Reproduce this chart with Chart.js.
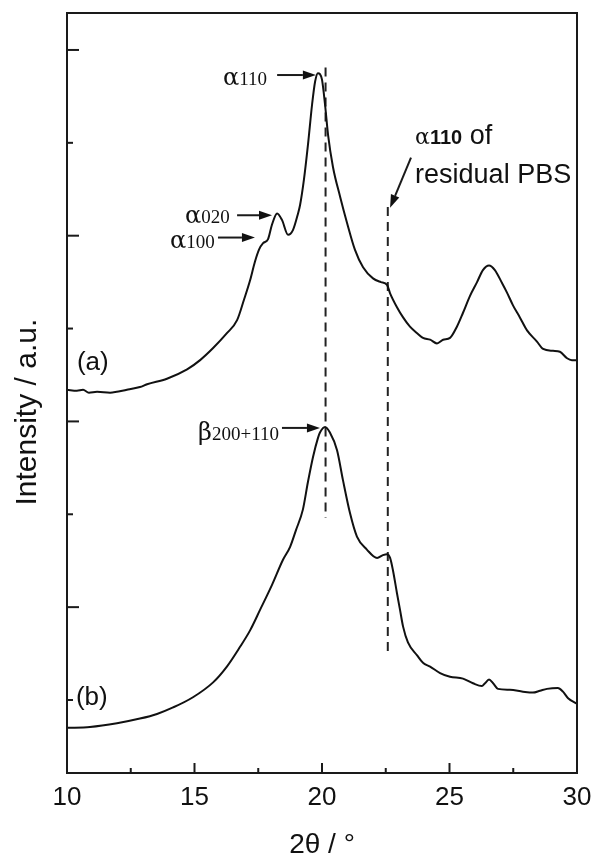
<!DOCTYPE html>
<html><head><meta charset="utf-8">
<script src="https://cdn.jsdelivr.net/npm/chart.js@4/dist/chart.umd.min.js"></script>
<style>html,body{margin:0;padding:0;background:#fff}</style>
</head><body>
<canvas id="c" width="594" height="856"></canvas>
<script>
// ---- data ----
const xA = [10.00,10.39,10.63,10.86,11.18,11.69,12.35,12.86,13.14,13.92,14.71,15.22,15.73,16.27,16.67,16.94,17.18,17.37,17.53,17.69,17.88,18.04,18.24,18.43,18.67,18.86,19.06,19.14,19.29,19.45,19.61,19.73,19.84,19.92,20.00,20.12,20.24,20.43,20.71,20.98,21.29,21.61,22.00,22.31,22.55,22.67,22.94,23.18,23.45,23.73,23.96,24.24,24.51,24.75,25.02,25.29,25.53,25.80,26.08,26.31,26.55,26.78,27.06,27.25,27.49,27.76,28.04,28.43,28.67,29.06,29.33,29.61,29.80,30.00];
const yA = [3.34,3.33,3.34,3.31,3.32,3.31,3.34,3.37,3.40,3.46,3.56,3.66,3.79,3.95,4.09,4.31,4.52,4.72,4.85,4.92,4.96,5.12,5.24,5.17,5.01,5.06,5.24,5.33,5.60,5.98,6.41,6.66,6.75,6.74,6.68,6.41,6.08,5.74,5.42,5.14,4.85,4.66,4.54,4.50,4.47,4.38,4.23,4.12,4.02,3.95,3.90,3.88,3.84,3.88,3.90,4.02,4.17,4.35,4.50,4.63,4.68,4.63,4.49,4.39,4.25,4.12,3.98,3.86,3.78,3.76,3.75,3.68,3.66,3.66];
const xB = [10.00,10.90,11.96,12.86,13.53,14.16,14.94,15.73,16.27,16.78,17.18,17.57,18.04,18.47,18.75,18.98,19.25,19.45,19.65,19.84,19.92,20.12,20.31,20.59,20.82,21.10,21.37,21.76,22.16,22.39,22.55,22.67,22.78,22.94,23.06,23.18,23.37,23.73,23.96,24.24,24.63,25.02,25.53,25.92,26.27,26.39,26.55,26.71,26.90,27.37,27.88,28.27,28.55,28.82,29.25,29.45,29.65,30.00];
const yB = [-0.30,-0.29,-0.25,-0.20,-0.15,-0.08,0.03,0.19,0.36,0.57,0.75,0.97,1.24,1.51,1.65,1.83,2.05,2.35,2.62,2.82,2.88,2.94,2.88,2.69,2.37,2.01,1.76,1.62,1.53,1.56,1.57,1.53,1.40,1.15,0.97,0.79,0.62,0.48,0.40,0.36,0.29,0.25,0.23,0.18,0.15,0.18,0.22,0.18,0.12,0.11,0.09,0.08,0.10,0.12,0.13,0.09,0.02,-0.04];
const dash1X = [20.14, 20.14], dash1Y = [6.81, 1.96];
const dash2X = [22.58, 22.58], dash2Y = [5.31, 0.485];
const xTickValues = [10,12.5,15,17.5,20,22.5,25,27.5,30];
const yTickValues = [0,1,2,3,4,5,6,7];
const xTitle = '2θ / °';
const yTitle = 'Intensity / a.u.';

// ---- annotation layout (data coordinates) ----
const peakNotes = [
  {g:'α', s:'110', x:16.12, y:6.62, a0:18.24, a1:19.76, ay:6.73},
  {g:'α', s:'020', x:14.63, y:5.14, a0:16.67, a1:18.04, ay:5.22},
  {g:'α', s:'100', x:14.04, y:4.87, a0:15.92, a1:17.37, ay:4.98},
  {g:'β', s:'200+110', x:15.14, y:2.80, a0:18.43, a1:19.92, ay:2.93}
];

const toPts = (xs, ys) => xs.map((x, i) => ({x, y: ys[i]}));

function arrow(ctx, x0, y0, x1, y1) {
  const ang = Math.atan2(y1 - y0, x1 - x0), L = 13, W = 4.5;
  const bx = x1 - L * Math.cos(ang), by = y1 - L * Math.sin(ang);
  ctx.beginPath(); ctx.moveTo(x0, y0); ctx.lineTo(bx, by); ctx.stroke();
  ctx.beginPath();
  ctx.moveTo(x1, y1);
  ctx.lineTo(bx + W * Math.sin(ang), by - W * Math.cos(ang));
  ctx.lineTo(bx - W * Math.sin(ang), by + W * Math.cos(ang));
  ctx.closePath(); ctx.fill();
}

const decor = {
  id: 'decor',
  afterDraw(chart) {
    const {ctx, chartArea: {left, top, right, bottom}, scales: {x, y}} = chart;
    ctx.save();
    ctx.strokeStyle = '#1a1a1a'; ctx.fillStyle = '#111'; ctx.lineWidth = 2;
    ctx.strokeRect(left, top, right - left, bottom - top);
    xTickValues.forEach(v => {
      const px = x.getPixelForValue(v), len = (v % 5 === 0) ? 10 : 5;
      ctx.beginPath(); ctx.moveTo(px, bottom); ctx.lineTo(px, bottom - len); ctx.stroke();
    });
    yTickValues.forEach(v => {
      const py = y.getPixelForValue(v), len = (v % 2 === 1) ? 12 : 6;
      ctx.beginPath(); ctx.moveTo(left, py); ctx.lineTo(left + len, py); ctx.stroke();
    });
    // peak labels
    ctx.textBaseline = 'alphabetic'; ctx.textAlign = 'left';
    peakNotes.forEach(n => {
      const px = x.getPixelForValue(n.x), py = y.getPixelForValue(n.y);
      ctx.font = '24px "DejaVu Serif"';
      ctx.fillText(n.g, px, py);
      const w = ctx.measureText(n.g).width;
      ctx.font = '19px "Liberation Serif"';
      ctx.fillText(n.s, px + w, py);
      arrow(ctx, x.getPixelForValue(n.a0), y.getPixelForValue(n.ay), x.getPixelForValue(n.a1), y.getPixelForValue(n.ay));
    });
    // residual PBS note
    let px = x.getPixelForValue(23.65), py = y.getPixelForValue(5.99);
    ctx.font = '22px "DejaVu Serif"'; ctx.fillText('α', px, py);
    px += ctx.measureText('α').width;
    ctx.font = 'bold 20px "Liberation Sans"'; ctx.fillText('110', px, py);
    px += ctx.measureText('110').width;
    ctx.font = '27px "Liberation Sans"'; ctx.fillText(' of', px, py);
    ctx.fillText('residual PBS', x.getPixelForValue(23.65), y.getPixelForValue(5.57));
    arrow(ctx, x.getPixelForValue(23.49), y.getPixelForValue(5.84), x.getPixelForValue(22.67), y.getPixelForValue(5.30));
    // curve tags
    ctx.textBaseline = 'middle';
    ctx.font = '26px "Liberation Sans"';
    ctx.fillText('(a)', x.getPixelForValue(10.39), y.getPixelForValue(3.63));
    ctx.fillText('(b)', x.getPixelForValue(10.35), y.getPixelForValue(0.02));
    // y title
    ctx.translate(28, y.getPixelForValue(3.1));
    ctx.rotate(-Math.PI / 2);
    ctx.textAlign = 'center';
    ctx.font = '30px "Liberation Sans"';
    ctx.fillText(yTitle, 0, 0);
    ctx.restore();
  }
};

const lineStyle = {showLine: true, pointRadius: 0, borderColor: '#111', borderWidth: 2, fill: false};
new Chart(document.getElementById('c'), {
  type: 'scatter',
  data: {datasets: [
    {...lineStyle, label: '(a)', data: toPts(xA, yA), cubicInterpolationMode: 'monotone'},
    {...lineStyle, label: '(b)', data: toPts(xB, yB), cubicInterpolationMode: 'monotone'},
    {...lineStyle, label: 'dash1', data: toPts(dash1X, dash1Y), borderColor: '#222', borderDash: [9, 6]},
    {...lineStyle, label: 'dash2', data: toPts(dash2X, dash2Y), borderColor: '#222', borderDash: [9, 6]}
  ]},
  options: {
    responsive: false, animation: false, devicePixelRatio: 1,
    layout: {padding: {left: 0, right: 17, top: 13, bottom: 0}},
    plugins: {legend: {display: false}, tooltip: {enabled: false}},
    scales: {
      x: {
        type: 'linear', min: 10, max: 30,
        grid: {display: false, drawTicks: false}, border: {display: false},
        ticks: {stepSize: 2.5, autoSkip: false, maxRotation: 0, padding: 9, color: '#111',
                font: {family: '"Liberation Sans"', size: 26},
                callback: v => (v % 5 === 0 ? String(v) : '')},
        title: {display: true, text: xTitle, color: '#111', padding: 0,
                font: {family: '"Liberation Sans"', size: 28, lineHeight: 0.8}},
        afterFit: s => { s.height = 83; s.paddingLeft = 0; s.paddingRight = 0; }
      },
      y: {
        type: 'linear', min: -0.786, max: 7.398,
        grid: {display: false, drawTicks: false}, border: {display: false},
        ticks: {display: false},
        afterFit: s => { s.width = 67; }
      }
    }
  },
  plugins: [decor]
});
</script>
</body></html>
